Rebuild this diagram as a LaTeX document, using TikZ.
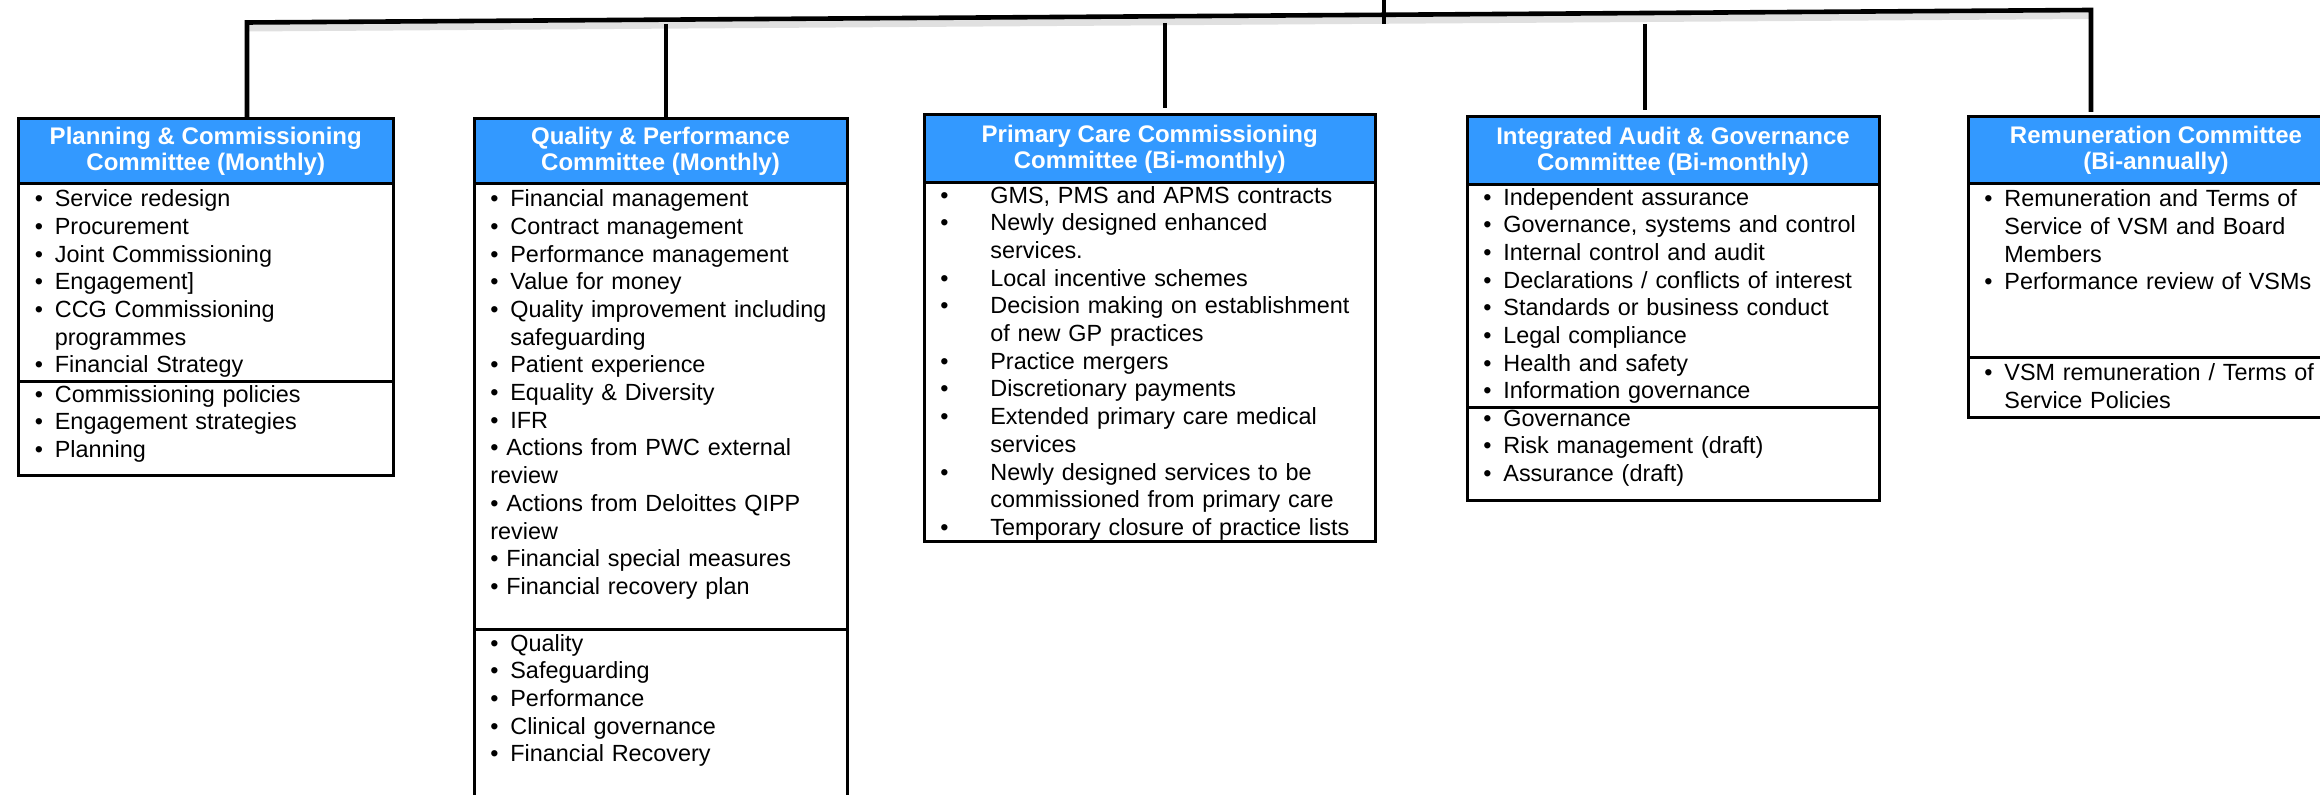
\documentclass[tikz,border=0pt]{standalone}
\usepackage{fontspec}
\setmainfont{Liberation Sans}
\usetikzlibrary{positioning}

\definecolor{headblue}{RGB}{51,153,255}

% one bullet item, later lines hang under the text
\newcommand{\bul}[2][10pt]{\par\setlength{\hangindent}{#1}\hangafter=1\noindent\strut\makebox[#1][l]{\textbullet}#2\par}
% bullet item whose later lines go back to the margin
\newcommand{\bulflat}[1]{\par\noindent\strut\textbullet\ #1\par}

\tikzstyle{headnode} = [rectangle, draw = black, line width = 1.5pt, fill = headblue, text = white, font = \fontsize{12}{13}\selectfont\bfseries, align = center, inner sep = 0pt, outer sep = 0pt]
\tikzstyle{framenode} = [rectangle, draw = black, line width = 1.5pt, inner sep = 0pt, outer sep = 0pt]
\tikzstyle{listtext} = [anchor = north west, inner sep = 0pt, align = left, font = \fontsize{11.7}{13.85}\selectfont]
\tikzstyle{link} = [line width = 2.3pt]

\begin{document}
\begin{tikzpicture}[x = 0.5pt, y = -0.5pt]
			\useasboundingbox (0,0) rectangle (2320,795);
			\clip (0,0) rectangle (2320,795);
			%%%%%%%%%%%%%%%%%%%%%%%%%%%%%%%%%%%%%%%%%%%%%
			% Committee headers, then the list frames hung below them.
			%%%%%%%%%%%%%%%%%%%%%%%%%%%%%%%%%%%%%%%%%%%%%
			\node[headnode, minimum width = 187.25pt, minimum height = 32.5pt] (PC) at (205.75,151.5) {Planning \& Commissioning\\Committee (Monthly)};
			\node[headnode, minimum width = 186.5pt, minimum height = 32.5pt] (QP) at (660.5,151.5) {Quality \& Performance\\Committee (Monthly)};
			\node[headnode, minimum width = 225.75pt, minimum height = 34pt] (PCC) at (1149.75,149) {Primary Care Commissioning\\Committee (Bi-monthly)};
			\node[headnode, minimum width = 206pt, minimum height = 34pt] (IAG) at (1673,151) {Integrated Audit \& Governance\\Committee (Bi-monthly)};
			\node[headnode, minimum width = 188pt, minimum height = 33.5pt] (RC) at (2156,150.5) {Remuneration Committee\\(Bi-annually)};

			\node[framenode, minimum width = 187.25pt, minimum height = 99pt, below = 0pt of PC] (PC1) {};
			\node[framenode, minimum width = 187.25pt, minimum height = 47pt, below = 0pt of PC1] (PC2) {};
			\node[framenode, minimum width = 186.5pt, minimum height = 223pt, below = 0pt of QP] (QP1) {};
			\node[framenode, minimum width = 186.5pt, minimum height = 100pt, below = 0pt of QP1] (QP2) {};
			\node[framenode, minimum width = 225.75pt, minimum height = 179.5pt, below = 0pt of PCC] (PCC1) {};
			\node[framenode, minimum width = 206pt, minimum height = 111.5pt, below = 0pt of IAG] (IAG1) {};
			\node[framenode, minimum width = 206pt, minimum height = 46.5pt, below = 0pt of IAG1] (IAG2) {};
			\node[framenode, minimum width = 188pt, minimum height = 87pt, below = 0pt of RC] (RC1) {};
			\node[framenode, minimum width = 188pt, minimum height = 30pt, below = 0pt of RC1] (RC2) {};

			% the lists
			\node[listtext, text width = 175pt] (PCt1) at ([xshift = 8pt, yshift = 2.7pt]PC1.north west) {
				\bul{Service redesign}
				\bul{Procurement}
				\bul{Joint Commissioning}
				\bul{Engagement]}
				\bul{CCG Commissioning\newline programmes}
				\bul{Financial Strategy}};
			\node[listtext, text width = 175pt] (PCt2) at ([xshift = 8pt, yshift = 4pt]PC2.north west) {
				\bul{Commissioning policies}
				\bul{Engagement strategies}
				\bul{Planning}};
			\node[listtext, text width = 175pt] (QPt1) at ([xshift = 8pt, yshift = 2.7pt]QP1.north west) {
				\bul{Financial management}
				\bul{Contract management}
				\bul{Performance management}
				\bul{Value for money}
				\bul{Quality improvement including\newline safeguarding}
				\bul{Patient experience}
				\bul{Equality \& Diversity}
				\bul{IFR}
				\bulflat{Actions from PWC external\newline review}
				\bulflat{Actions from Deloittes QIPP\newline review}
				\bulflat{Financial special measures}
				\bulflat{Financial recovery plan}};
			\node[listtext, text width = 175pt] (QPt2) at ([xshift = 8pt, yshift = 3.5pt]QP2.north west) {
				\bul{Quality}
				\bul{Safeguarding}
				\bul{Performance}
				\bul{Clinical governance}
				\bul{Financial Recovery}};
			\node[listtext, text width = 215pt] (PCCt1) at ([xshift = 8pt, yshift = 4pt]PCC1.north west) {
				\bul[25pt]{GMS, PMS and APMS contracts}
				\bul[25pt]{Newly designed enhanced\newline services.}
				\bul[25pt]{Local incentive schemes}
				\bul[25pt]{Decision making on establishment\newline of new GP practices}
				\bul[25pt]{Practice mergers}
				\bul[25pt]{Discretionary payments}
				\bul[25pt]{Extended primary care medical\newline services}
				\bul[25pt]{Newly designed services to be\newline commissioned from primary care}
				\bul[25pt]{Temporary closure of practice lists}};
			\node[listtext, text width = 200pt] (IAGt1) at ([xshift = 8pt, yshift = 4pt]IAG1.north west) {
				\bul{Independent assurance}
				\bul{Governance, systems and control}
				\bul{Internal control and audit}
				\bul{Declarations / conflicts of interest}
				\bul{Standards or business conduct}
				\bul{Legal compliance}
				\bul{Health and safety}
				\bul{Information governance}};
			\node[listtext, text width = 200pt] (IAGt2) at ([xshift = 8pt, yshift = 5pt]IAG2.north west) {
				\bul{Governance}
				\bul{Risk management (draft)}
				\bul{Assurance (draft)}};
			\node[listtext, text width = 178pt] (RCt1) at ([xshift = 8pt, yshift = 2.7pt]RC1.north west) {
				\bul{Remuneration and Terms of\newline Service of VSM and Board\newline Members}
				\bul{Performance review of VSMs}};
			\node[listtext, text width = 178pt] (RCt2) at ([xshift = 8pt, yshift = 2.7pt]RC2.north west) {
				\bul{VSM remuneration / Terms of\newline Service Policies}};

			%%%%%%%%%%%%%%%%%%%%%%%%%%%%%%%%%%%%%%%%%%%%%
			% The bar over the committees and the drops.
			%%%%%%%%%%%%%%%%%%%%%%%%%%%%%%%%%%%%%%%%%%%%%
			\coordinate (T) at (1384,-4);
			\coordinate (J0) at (1384,24);
			\coordinate (J1) at (247,22.5);
			\coordinate (J2) at (666,24);
			\coordinate (J3) at (1165,23);
			\coordinate (J4) at (1645,24);
			\coordinate (J5) at (2091,10);
			\draw[link, line width = 4pt, black!12, transform canvas = {yshift = -2.5pt}] (J1) -- (J5);
			\draw[link, shorten > = 2.5pt] (PC.north -| J1) -- (J1) -- (J5) -- (RC.north -| J5);
			\draw[link, shorten > = 1pt] (J2) -- (QP.north -| J2);
			\draw[link, shorten > = 3.5pt] (J3) -- (PCC.north -| J3);
			\draw[link, shorten > = 3.5pt] (J4) -- (IAG.north -| J4);
			\draw[link] (T) -- (J0);
		\end{tikzpicture}
\end{document}
